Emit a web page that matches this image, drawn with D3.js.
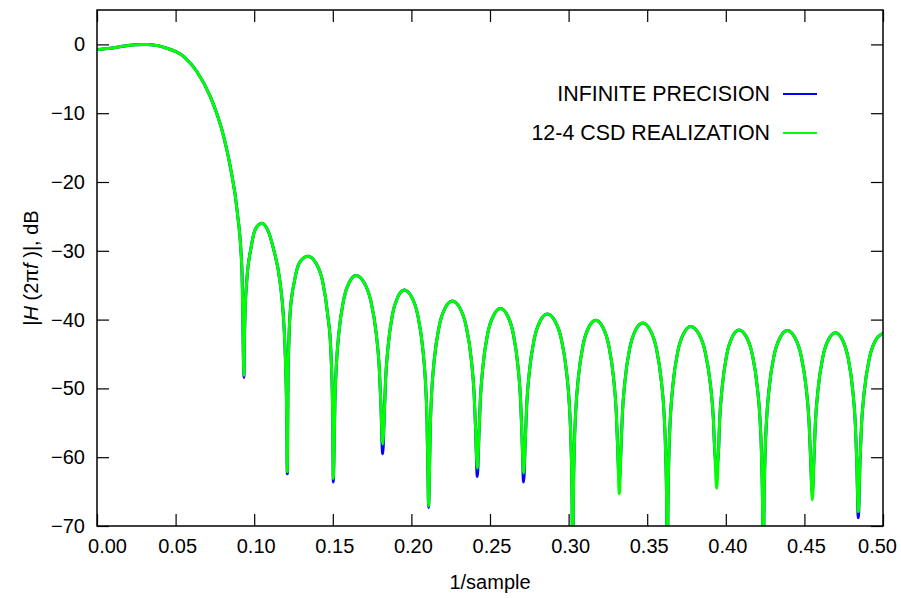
<!DOCTYPE html>
<html>
<head>
<meta charset="utf-8">
<script src="https://cdn.jsdelivr.net/npm/d3@7"></script>
<style>
  body { margin: 0; background: #fff; }
</style>
</head>
<body>
<svg id="chart"></svg>
<script>
const FONT = "'Liberation Sans', Arial, Helvetica, sans-serif";

const xTicks = [0, 0.05, 0.10, 0.15, 0.20, 0.25, 0.30, 0.35, 0.40, 0.45, 0.50];
const yTicks = [0, -10, -20, -30, -40, -50, -60, -70];

const seriesNames = ['INFINITE PRECISION', '12-4 CSD REALIZATION'];
const seriesColors = ['#0000ff', '#00ff00'];

// frequency (1/sample), one row per lobe, last value of each row is the null
const freq = [
  0, 0.0083, 0.0146, 0.0242, 0.0318, 0.0401, 0.0424, 0.0552, 0.0636, 0.0721, 0.0806, 0.0848, 0.0891, 0.0922, 0.09351,
  0.0937, 0.09415, 0.09523, 0.09796, 0.10051, 0.10477, 0.10897, 0.11215, 0.11641, 0.11851, 0.11959, 0.12067, 0.12106,
  0.1215, 0.12195, 0.12277, 0.12551, 0.12913, 0.13422, 0.13931, 0.14358, 0.14676, 0.14866, 0.14994, 0.15032,
  0.15068, 0.15133, 0.1522, 0.15379, 0.15682, 0.16043, 0.16476, 0.16985, 0.1741, 0.17766, 0.17953, 0.18055, 0.18174,
  0.1827, 0.18353, 0.18504, 0.18792, 0.19136, 0.19548, 0.20012, 0.20398, 0.20723, 0.20893, 0.20986, 0.21055, 0.21094,
  0.21132, 0.212, 0.2129, 0.21456, 0.21773, 0.2215, 0.22602, 0.23079, 0.23477, 0.2381, 0.23985, 0.24081, 0.24192,
  0.24295, 0.24384, 0.24546, 0.24856, 0.25225, 0.25668, 0.26109, 0.26476, 0.26784, 0.26946, 0.27034, 0.27137,
  0.27243, 0.27333, 0.27499, 0.27816, 0.28193, 0.28645, 0.2913, 0.29534, 0.29873, 0.30051, 0.30148, 0.30221, 0.30261,
  0.30298, 0.30363, 0.30451, 0.30612, 0.30919, 0.31285, 0.31724, 0.32174, 0.3255, 0.32865, 0.3303, 0.3312, 0.33225,
  0.33329, 0.33419, 0.33582, 0.33895, 0.34267, 0.34714, 0.35184, 0.35575, 0.35903, 0.36076, 0.36169, 0.3624, 0.36279,
  0.36316, 0.36383, 0.36472, 0.36636, 0.36949, 0.37321, 0.37767, 0.38263, 0.38677, 0.39024, 0.39206, 0.39305, 0.39421,
  0.3952, 0.39605, 0.39762, 0.4006, 0.40414, 0.4084, 0.41304, 0.4169, 0.42014, 0.42184, 0.42277, 0.42346, 0.42385,
  0.42423, 0.42492, 0.42584, 0.42751, 0.43072, 0.43454, 0.43912, 0.44389, 0.44787, 0.45121, 0.45296, 0.45392, 0.45503,
  0.45606, 0.45695, 0.45857, 0.46167, 0.46535, 0.46978, 0.47413, 0.47776, 0.48081, 0.4824, 0.48327, 0.48429,
  0.48539, 0.48633, 0.48806, 0.49136, 0.49529, 0.5
];

// |H(2 pi f)| in dB, infinite precision coefficients
const infiniteDb = [
  -0.75, -0.57, -0.33, -0.05, 0.0, -0.25, -0.42, -1.78, -3.97, -7.6, -13.4, -17.8, -24.1, -32.8, -48.4,
  -44.1, -39.3, -34.5, -29.6, -27.0, -26.0, -27.2, -29.6, -34.5, -39.3, -44.1, -53.9, -62.4,
  -49.0, -44.1, -39.3, -34.5, -31.6, -30.8, -31.8, -34.5, -39.3, -44.1, -53.9, -63.6,
  -60.6, -52.1, -46.9, -42.1, -37.2, -34.6, -33.6, -34.6, -37.2, -42.1, -46.9, -52.1, -59.5,
  -54.2, -49.0, -44.2, -39.3, -36.7, -35.7, -36.7, -39.3, -44.2, -49.0, -54.2, -62.7, -67.3,
  -64.3, -55.8, -50.6, -45.8, -40.9, -38.3, -37.3, -38.3, -40.9, -45.8, -50.6, -55.8, -62.8,
  -56.9, -51.7, -46.9, -42.0, -39.4, -38.4, -39.4, -42.0, -46.9, -51.7, -56.9, -63.6,
  -57.7, -52.5, -47.7, -42.8, -40.2, -39.2, -40.2, -42.8, -47.7, -52.5, -57.7, -66.2, -80,
  -67.1, -58.6, -53.4, -48.6, -43.7, -41.1, -40.1, -41.1, -43.7, -48.6, -53.4, -58.6, -63.6,
  -59.0, -53.8, -49.0, -44.1, -41.5, -40.5, -41.5, -44.1, -49.0, -53.8, -59.0, -67.5, -82,
  -68.0, -59.5, -54.3, -49.5, -44.6, -42.0, -41.0, -42.0, -44.6, -49.5, -54.3, -59.5, -61.2,
  -60.0, -54.8, -50.0, -45.1, -42.5, -41.5, -42.5, -45.1, -50.0, -54.8, -60.0, -68.5, -81,
  -68.6, -60.1, -54.9, -50.1, -45.2, -42.6, -41.6, -42.6, -45.2, -50.1, -54.9, -60.1, -65.3,
  -60.4, -55.2, -50.4, -45.5, -42.9, -41.9, -42.9, -45.5, -50.4, -55.2, -60.4, -68.8,
  -60.5, -55.3, -50.5, -45.6, -43.0, -42.0
];

// |H(2 pi f)| in dB, 12-4 CSD realization
const csdDb = [
  -0.75, -0.57, -0.33, -0.05, 0.0, -0.25, -0.42, -1.78, -3.97, -7.6, -13.4, -17.8, -24.1, -32.8, -48.1,
  -44.1, -39.3, -34.5, -29.6, -27.0, -26.0, -27.2, -29.6, -34.5, -39.3, -44.1, -53.9, -62.1,
  -49.0, -44.1, -39.3, -34.5, -31.6, -30.8, -31.8, -34.5, -39.3, -44.1, -53.9, -63.1,
  -60.6, -52.1, -46.9, -42.1, -37.2, -34.6, -33.6, -34.6, -37.2, -42.1, -46.9, -52.1, -58.1,
  -54.2, -49.0, -44.2, -39.3, -36.7, -35.7, -36.7, -39.3, -44.2, -49.0, -54.2, -62.7, -67.1,
  -64.3, -55.8, -50.6, -45.8, -40.9, -38.3, -37.3, -38.3, -40.9, -45.8, -50.6, -55.8, -61.6,
  -56.9, -51.7, -46.9, -42.0, -39.4, -38.4, -39.4, -42.0, -46.9, -51.7, -56.9, -62.3,
  -57.7, -52.5, -47.7, -42.8, -40.2, -39.2, -40.2, -42.8, -47.7, -52.5, -57.7, -66.2, -78,
  -67.1, -58.6, -53.4, -48.6, -43.7, -41.1, -40.1, -41.1, -43.7, -48.6, -53.4, -58.6, -65.3,
  -59.0, -53.8, -49.0, -44.1, -41.5, -40.5, -41.5, -44.1, -49.0, -53.8, -59.0, -67.5, -79,
  -68.0, -59.5, -54.3, -49.5, -44.6, -42.0, -41.0, -42.0, -44.6, -49.5, -54.3, -59.5, -64.5,
  -60.0, -54.8, -50.0, -45.1, -42.5, -41.5, -42.5, -45.1, -50.0, -54.8, -60.0, -68.5, -78,
  -68.6, -60.1, -54.9, -50.1, -45.2, -42.6, -41.6, -42.6, -45.2, -50.1, -54.9, -60.1, -66.2,
  -60.4, -55.2, -50.4, -45.5, -42.9, -41.9, -42.9, -45.5, -50.4, -55.2, -60.4, -67.9,
  -60.5, -55.3, -50.5, -45.6, -43.0, -42.0
];

const margin = {top: 10, bottom: 72, left: 97, right: 18};
const width = 901 - margin.left - margin.right;
const height = 598 - margin.top - margin.bottom;

const svg = d3.select('#chart')
.attr('width', width + margin.left + margin.right)
.attr('height', height + margin.top + margin.bottom)
.append('g')
.attr('transform', `translate(${margin.left}, ${margin.top})`);

const x = d3.scaleLinear()
.domain([0, 0.5])
.range([0, width]);

const y = d3.scaleLinear()
.domain([-70, 5])
.range([height, 0]);

svg.append('clipPath')
.attr('id', 'plot-clip')
.append('rect')
.attr('width', width)
.attr('height', height);

// axes, ticks pointing inwards on all four sides
const styleAxis = g => {
  g.select('.domain').remove();
  g.attr('font-size', 20).attr('font-family', FONT);
  g.selectAll('.tick line').attr('stroke-width', 1.2);
  g.selectAll('.tick text').attr('fill', '#000');
};

const xAxis = svg.append('g')
.attr('transform', `translate(0, ${height})`)
.call(d3.axisBottom(x).tickValues(xTicks).tickFormat(d3.format('.2f')).tickSizeInner(-12).tickSizeOuter(0).tickPadding(13))
.call(styleAxis);

// first and last labels are pushed inwards, like in the original plot
xAxis.selectAll('.tick text')
.attr('dx', (d, i) => i === 0 ? 10 : (i === xTicks.length - 1 ? -6 : 1.5));

svg.append('g')
.call(d3.axisTop(x).tickValues(xTicks).tickFormat('').tickSizeInner(-12).tickSizeOuter(0))
.call(styleAxis);

svg.append('g')
.call(d3.axisLeft(y).tickValues(yTicks).tickFormat(d3.format('d')).tickSizeInner(-12).tickSizeOuter(0).tickPadding(12))
.call(styleAxis);

svg.append('g')
.attr('transform', `translate(${width}, 0)`)
.call(d3.axisRight(y).tickValues(yTicks).tickFormat('').tickSizeInner(-12).tickSizeOuter(0))
.call(styleAxis);

// curves
const line = d3.line()
.x((d, i) => x(freq[i]))
.y(d => y(d))
.curve(d3.curveMonotoneX);

[infiniteDb, csdDb].forEach((series, i) => {
  svg.append('path')
  .datum(series)
  .attr('clip-path', 'url(#plot-clip)')
  .attr('fill', 'none')
  .attr('stroke', seriesColors[i])
  .attr('stroke-width', 3)
  .attr('stroke-linejoin', 'round')
  .attr('d', line);
});

svg.append('rect')
.attr('width', width)
.attr('height', height)
.attr('fill', 'none')
.attr('stroke', '#000')
.attr('stroke-width', 1.5);

// legend
seriesNames.forEach((name, i) => {
  const ly = 84 + i * 39;
  svg.append('text')
  .attr('x', width - 113)
  .attr('y', ly)
  .attr('dy', '0.35em')
  .attr('text-anchor', 'end')
  .attr('font-family', FONT)
  .attr('font-size', 21.4)
  .text(name);

  svg.append('line')
  .attr('x1', width - 100)
  .attr('x2', width - 66)
  .attr('y1', ly)
  .attr('y2', ly)
  .attr('stroke', seriesColors[i])
  .attr('stroke-width', 2);
});

// axis titles
svg.append('text')
.attr('x', width / 2)
.attr('y', height + 63)
.attr('text-anchor', 'middle')
.attr('font-family', FONT)
.attr('font-size', 20)
.text('1/sample');

const yTitle = svg.append('text')
.attr('transform', 'rotate(-90)')
.attr('x', -height / 2)
.attr('y', -66)
.attr('dy', '0.35em')
.attr('text-anchor', 'middle')
.attr('font-family', FONT)
.attr('font-size', 20);

yTitle.append('tspan').text('|');
yTitle.append('tspan').attr('font-style', 'italic').text('H');
yTitle.append('tspan').text(' (2\u03c0');
yTitle.append('tspan').attr('font-style', 'italic').text('f');
yTitle.append('tspan').text(' )|, dB');
</script>
</body>
</html>
